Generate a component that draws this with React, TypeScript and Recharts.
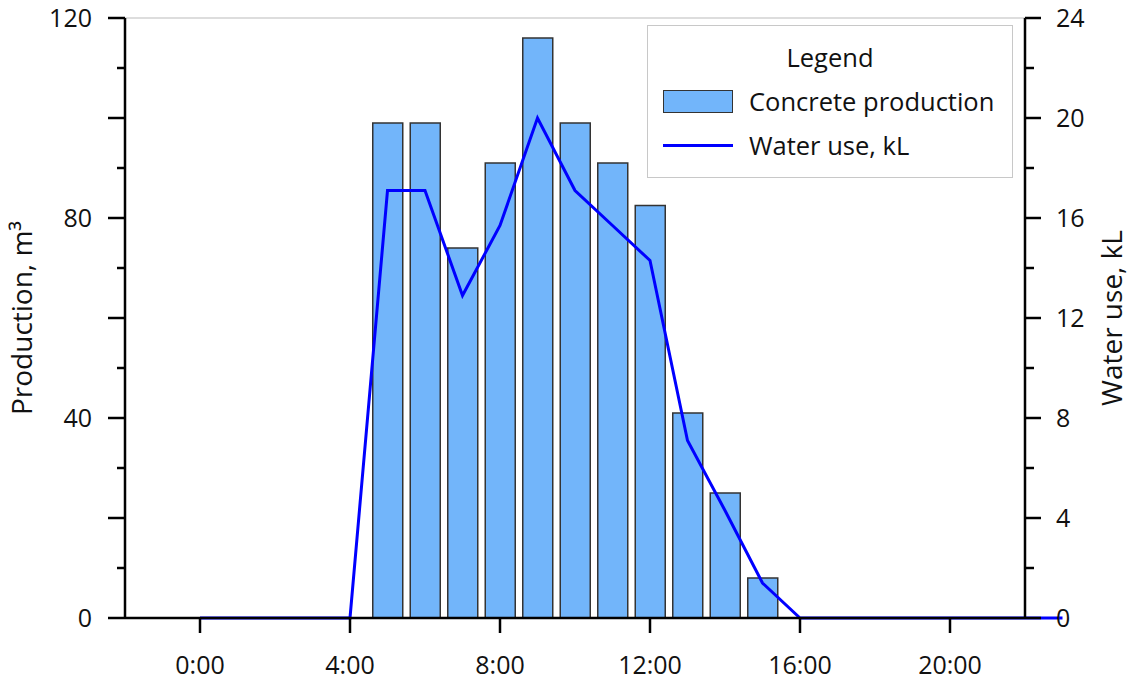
import { ComposedChart, Bar, Line, XAxis, YAxis, CartesianGrid, Legend } from 'recharts'

const FONT = '"Open Sans", "Segoe UI", sans-serif'

// hour of day (0-23), concrete production (m3) and water use (kL)
const hours = [0, 4, 5, 6, 7, 8, 9, 10, 11, 12, 13, 14, 15, 16, 23]
const production = [null, null, 99, 99, 74, 91, 116, 99, 91, 82.5, 41, 25, 8, null, null]
const waterUse = [0, 0, 17.1, 17.1, 12.9, 15.7, 20, 17.1, 15.7, 14.3, 7.1, 4.3, 1.4, 0, 0]

const hourTicks = [0, 4, 8, 12, 16, 20]
const productionTicks = [0, 10, 20, 30, 40, 50, 60, 70, 80, 90, 100, 110, 120]
const waterTicks = [0, 2, 4, 6, 8, 10, 12, 14, 16, 18, 20, 22, 24]
const gridTicks = [0, 20, 40, 60, 80, 100, 120]

const data = hours.map((h, i) => ({
  hour: h,
  production: production[i],
  water: waterUse[i],
}))

const LeftTick = ({ x, y, payload }: any) => {
  const v = payload.value
  const major = v % 20 === 0
  return (
    <g>
      <line x1={x} x2={x - (major ? 17 : 8)} y1={y} y2={y} stroke="#000" strokeWidth={2.5} />
      {v % 40 === 0 && (
        <text x={x - 33} y={y} dy="0.36em" textAnchor="end" fontSize={25} fontFamily={FONT} fill="#111">
          {v}
        </text>
      )}
    </g>
  )
}

const RightTick = ({ x, y, payload }: any) => {
  const v = payload.value
  const major = v % 4 === 0
  return (
    <g>
      <line x1={x} x2={x + (major ? 16 : 9)} y1={y} y2={y} stroke="#000" strokeWidth={2.5} />
      {major && (
        <text x={x + 31} y={y} dy="0.36em" textAnchor="start" fontSize={25} fontFamily={FONT} fill="#111">
          {v}
        </text>
      )}
    </g>
  )
}

const LegendBox = ({ payload }: any) => (
  <div
    style={{
      position: 'relative',
      width: 366,
      height: 153,
      boxSizing: 'border-box',
      border: '1.5px solid #c8c8c8',
      background: '#fff',
      fontFamily: FONT,
      fontSize: 25.5,
      color: '#111',
    }}
  >
    <div style={{ position: 'absolute', top: 16, left: 0, width: '100%', textAlign: 'center', lineHeight: '30px' }}>
      Legend
    </div>
    {(payload || []).map((entry: any, i: number) => (
      <div key={entry.value} style={{ position: 'absolute', left: 15, top: 60 + i * 44, height: 30, display: 'flex', alignItems: 'center' }}>
        {entry.type === 'line' ? (
          <div style={{ width: 70, height: 3, background: entry.color }} />
        ) : (
          <div style={{ width: 70, height: 23, boxSizing: 'border-box', background: entry.color, border: '1.5px solid #333' }} />
        )}
        <span style={{ marginLeft: 16, lineHeight: '30px', whiteSpace: 'nowrap' }}>{entry.value}</span>
      </div>
    ))}
  </div>
)

export default function App() {
  return (
    <div style={{ position: 'absolute', left: 0, top: 0, background: '#fff' }}>
      <style>{`.water-line, .water-line * { clip-path: none !important; }`}</style>
      <ComposedChart width={1130} height={680} data={data} margin={{ top: 18, right: 0, bottom: 0, left: 0 }}>
        <YAxis hide width={0} domain={[0, 120]} ticks={gridTicks} />
        <CartesianGrid vertical={false} stroke="#d2d2d2" strokeWidth={1.5} />
        <XAxis
          dataKey="hour"
          type="number"
          domain={[-2, 22]}
          allowDataOverflow
          ticks={hourTicks}
          tickFormatter={(h: number) => `${h}:00`}
          height={62}
          tickSize={15}
          tickMargin={23}
          axisLine={{ stroke: '#000', strokeWidth: 2.5 }}
          tickLine={{ stroke: '#000', strokeWidth: 2.5 }}
          tick={{ fill: '#111', fontSize: 25, fontFamily: FONT }}
        />
        <YAxis
          yAxisId="left"
          orientation="left"
          width={125}
          domain={[0, 120]}
          ticks={productionTicks}
          interval={0}
          tickSize={0}
          tickMargin={0}
          tickLine={false}
          tick={<LeftTick />}
          axisLine={{ stroke: '#000', strokeWidth: 2.5 }}
          label={{
            value: 'Production, m³',
            angle: -90,
            position: 'center',
            dx: -40,
            style: { fontSize: 28, fontFamily: FONT, fill: '#111' },
          }}
        />
        <YAxis
          yAxisId="right"
          orientation="right"
          width={105}
          domain={[0, 24]}
          ticks={waterTicks}
          interval={0}
          tickSize={0}
          tickMargin={0}
          tickLine={false}
          tick={<RightTick />}
          axisLine={{ stroke: '#000', strokeWidth: 2.5 }}
          label={{
            value: 'Water use, kL',
            angle: -90,
            position: 'center',
            dx: 35,
            style: { fontSize: 28, fontFamily: FONT, fill: '#111' },
          }}
        />
        <Bar
          yAxisId="left"
          dataKey="production"
          name="Concrete production"
          fill="#72b5fa"
          stroke="#333"
          strokeWidth={1.5}
          barSize={30}
          isAnimationActive={false}
        />
        <Line
          yAxisId="right"
          className="water-line"
          dataKey="water"
          name="Water use, kL"
          type="linear"
          stroke="#0000ff"
          strokeWidth={3}
          dot={false}
          activeDot={false}
          legendType="line"
          isAnimationActive={false}
        />
        <Legend
          layout="vertical"
          align="center"
          verticalAlign="middle"
          content={<LegendBox />}
          wrapperStyle={{ left: 647, top: 25, width: 366, height: 153 }}
        />
      </ComposedChart>
    </div>
  )
}
